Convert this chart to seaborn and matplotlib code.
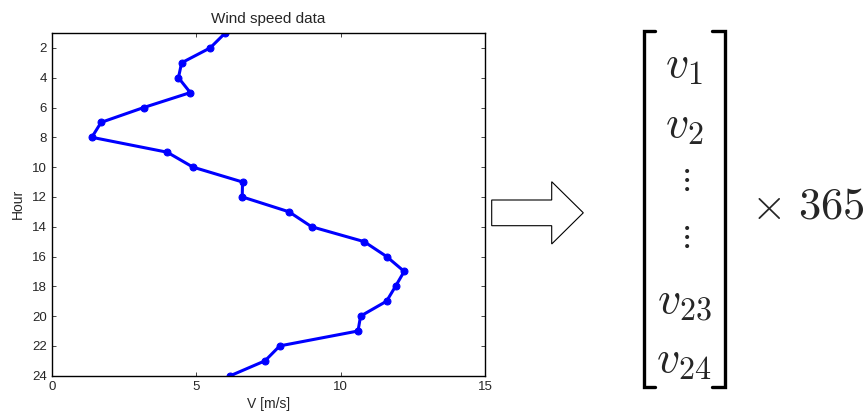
import matplotlib
matplotlib.use("Agg")
import matplotlib.pyplot as plt
import seaborn as sns
import pandas as pd
from matplotlib.patches import Polygon
from matplotlib.lines import Line2D

hours = list(range(1, 25))
speed = [6.0, 5.48, 4.49, 4.38, 4.79, 3.18, 1.70, 1.38, 3.99, 4.88, 6.60, 6.59,
         8.21, 8.99, 10.81, 11.59, 12.20, 11.90, 11.59, 10.69, 10.60, 7.89, 7.38, 6.18]
x_ticks = [0, 5, 10, 15]
y_ticks = list(range(2, 25, 2))
entries = [r"$v_1$", r"$v_2$", r"$\vdots$", r"$\vdots$", r"$v_{23}$", r"$v_{24}$"]
multiplier = r"$\times\ 365$"

sns.set_style("ticks")
plt.rcParams["font.family"] = ["Liberation Sans", "DejaVu Sans"]
plt.rcParams["mathtext.fontset"] = "cm"

df = pd.DataFrame({"Hour": hours, "V": speed})

W, H = 864, 417
fig = plt.figure(figsize=(W / 100, H / 100), dpi=100)
ax = fig.add_axes([52 / W, 1 - 375.7 / H, (485 - 52) / W, (375.7 - 33) / H])
sns.lineplot(data=df, x="V", y="Hour", sort=False, estimator=None, ax=ax,
             color="#0000ff", linewidth=2.2, marker="o", markersize=5,
             markeredgecolor="#0000ff", clip_on=True)
ax.set_xlim(0, 15)
ax.set_ylim(24, 1)
ax.set_xticks(x_ticks)
ax.set_yticks(y_ticks)
ax.tick_params(direction="in", top=True, right=True, labelsize=9.5, length=3,
               width=0.6)
ax.tick_params(axis="x", pad=4)
ax.tick_params(axis="y", pad=3.5)
for s in ax.spines.values():
    s.set_visible(True)
    s.set_linewidth(1.0)
    s.set_color("black")
ax.set_xlabel("V [m/s]", fontsize=10, labelpad=3)
ax.set_ylabel("Hour", fontsize=10, labelpad=5)
ax.set_title("Wind speed data", fontsize=11, pad=7)

# overlay in pixel coordinates
ov = fig.add_axes([0, 0, 1, 1])
ov.set_xlim(0, W)
ov.set_ylim(H, 0)
ov.axis("off")
ov.patch.set_alpha(0)

arrow = Polygon([(491.7, 200), (551.7, 200), (551.7, 181.7), (583.3, 212.8),
                 (551.7, 244), (551.7, 225.7), (491.7, 225.7)], closed=True,
                facecolor="white", edgecolor="black", linewidth=0.8)
ov.add_patch(arrow)

lw = 2.4
ov.add_line(Line2D([655, 643.5, 643.5, 655], [31, 31, 387, 387], color="black",
                   linewidth=lw, solid_joinstyle="miter"))
ov.add_line(Line2D([712, 725, 725, 712], [31, 31, 387, 387], color="black",
                   linewidth=lw, solid_joinstyle="miter"))

ys = [65, 125, 180, 237, 301, 360]
sizes = [33, 33, 23, 23, 33, 33]
for t, y, fs in zip(entries, ys, sizes):
    ov.text(684, y, t, fontsize=fs, ha="center", va="center")

ov.text(808, 207, multiplier, fontsize=32, ha="center", va="center")

fig.savefig("out.png", dpi=100)
